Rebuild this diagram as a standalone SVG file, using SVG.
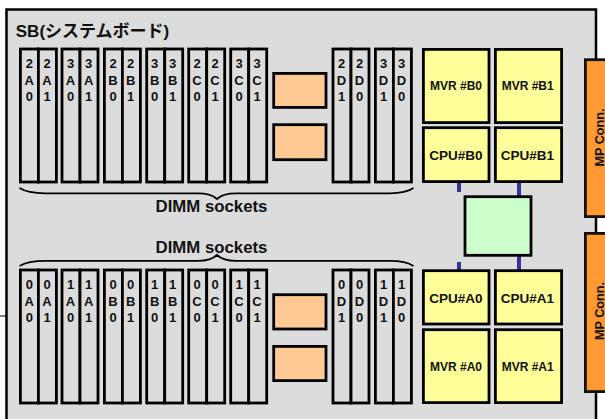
<svg xmlns="http://www.w3.org/2000/svg" width="605" height="419" viewBox="0 0 605 419">
<style>
text{font-family:"Liberation Sans",Arial,"Noto Sans CJK JP",sans-serif;font-weight:bold;fill:#111;text-anchor:middle}
.d{fill:#dcdcdc;stroke:#000;stroke-width:2.8}
.o{fill:#ffc993;stroke:#000;stroke-width:2.8}
.y{fill:#ffff99;stroke:#000;stroke-width:2.8}
.g{fill:#ccffcc;stroke:#000;stroke-width:2.8}
.c{fill:#ff9933;stroke:#111;stroke-width:2.8}
.b{fill:#333399}
.br{fill:none;stroke:#000;stroke-width:1.8}
.s{font-size:13px}
.m{font-size:12px}
.p{font-size:13.5px}
.l{font-size:16.8px}
</style>
<defs>
<g id="dp"><rect class="d" x="0" y="0" width="18" height="133"/><rect class="d" x="18" y="0" width="18" height="133"/></g>
</defs>
<g id="board"><rect x="6.500" y="9.500" width="589.500" height="420" fill="#dcdcdc" stroke="#000" stroke-width="2.500"/><line x1="0" y1="316" x2="6" y2="316" stroke="#000" stroke-width="1"/><text x="92.500" y="37" style="font-size:17px">SB(システムボード)</text></g>
<g id="connectors">
<rect class="b" x="457" y="183" width="4" height="9"/><rect class="b" x="517" y="183" width="4" height="13"/>
<rect class="b" x="457" y="262" width="4" height="8"/><rect class="b" x="517" y="256" width="4" height="14"/>
<path class="br" d="M19.500 188Q28 193.300 45 193.300L198 193.300Q211 193.300 217 199Q223 193.300 236 193.300L390 193.300Q406 193.300 413.500 188"/>
<path class="br" d="M19.500 266Q28 260.800 45 260.800L198 260.800Q211 260.800 217 255Q223 260.800 236 260.800L390 260.800Q406 260.800 413.500 266"/>
</g>
<g id="dimm-top">
<use href="#dp" x="20.400" y="49"/><use href="#dp" x="62" y="49"/><use href="#dp" x="104.400" y="49"/><use href="#dp" x="146.700" y="49"/><use href="#dp" x="188.700" y="49"/><use href="#dp" x="230.700" y="49"/><use href="#dp" x="333" y="49"/><use href="#dp" x="375.400" y="49"/>
<g class="s">
<text x="29.300" y="68">2<tspan x="29.300" dy="16.500">A</tspan><tspan x="29.300" dy="16.500">0</tspan></text><text x="47" y="68">2<tspan x="47" dy="16.500">A</tspan><tspan x="47" dy="16.500">1</tspan></text>
<text x="70.500" y="68">3<tspan x="70.500" dy="16.500">A</tspan><tspan x="70.500" dy="16.500">0</tspan></text><text x="88.700" y="68">3<tspan x="88.700" dy="16.500">A</tspan><tspan x="88.700" dy="16.500">1</tspan></text>
<text x="113" y="68">2<tspan x="113" dy="16.500">B</tspan><tspan x="113" dy="16.500">0</tspan></text><text x="130.700" y="68">2<tspan x="130.700" dy="16.500">B</tspan><tspan x="130.700" dy="16.500">1</tspan></text>
<text x="154.700" y="68">3<tspan x="154.700" dy="16.500">B</tspan><tspan x="154.700" dy="16.500">0</tspan></text><text x="172.700" y="68">3<tspan x="172.700" dy="16.500">B</tspan><tspan x="172.700" dy="16.500">1</tspan></text>
<text x="197" y="68">2<tspan x="197" dy="16.500">C</tspan><tspan x="197" dy="16.500">0</tspan></text><text x="215" y="68">2<tspan x="215" dy="16.500">C</tspan><tspan x="215" dy="16.500">1</tspan></text>
<text x="239" y="68">3<tspan x="239" dy="16.500">C</tspan><tspan x="239" dy="16.500">0</tspan></text><text x="257" y="68">3<tspan x="257" dy="16.500">C</tspan><tspan x="257" dy="16.500">1</tspan></text>
<text x="341.500" y="68">2<tspan x="341.500" dy="16.500">D</tspan><tspan x="341.500" dy="16.500">1</tspan></text><text x="359.500" y="68">2<tspan x="359.500" dy="16.500">D</tspan><tspan x="359.500" dy="16.500">0</tspan></text>
<text x="383.500" y="68">3<tspan x="383.500" dy="16.500">D</tspan><tspan x="383.500" dy="16.500">1</tspan></text><text x="401.500" y="68">3<tspan x="401.500" dy="16.500">D</tspan><tspan x="401.500" dy="16.500">0</tspan></text>
</g>
</g>
<g id="dimm-bottom">
<use href="#dp" x="20.400" y="270"/><use href="#dp" x="62" y="270"/><use href="#dp" x="104.400" y="270"/><use href="#dp" x="146.700" y="270"/><use href="#dp" x="188.700" y="270"/><use href="#dp" x="230.700" y="270"/><use href="#dp" x="333" y="270"/><use href="#dp" x="375.400" y="270"/>
<g class="s">
<text x="29.300" y="289">0<tspan x="29.300" dy="16.500">A</tspan><tspan x="29.300" dy="16.500">0</tspan></text><text x="47" y="289">0<tspan x="47" dy="16.500">A</tspan><tspan x="47" dy="16.500">1</tspan></text>
<text x="70.500" y="289">1<tspan x="70.500" dy="16.500">A</tspan><tspan x="70.500" dy="16.500">0</tspan></text><text x="88.700" y="289">1<tspan x="88.700" dy="16.500">A</tspan><tspan x="88.700" dy="16.500">1</tspan></text>
<text x="113" y="289">0<tspan x="113" dy="16.500">B</tspan><tspan x="113" dy="16.500">0</tspan></text><text x="130.700" y="289">0<tspan x="130.700" dy="16.500">B</tspan><tspan x="130.700" dy="16.500">1</tspan></text>
<text x="154.700" y="289">1<tspan x="154.700" dy="16.500">B</tspan><tspan x="154.700" dy="16.500">0</tspan></text><text x="172.700" y="289">1<tspan x="172.700" dy="16.500">B</tspan><tspan x="172.700" dy="16.500">1</tspan></text>
<text x="197" y="289">0<tspan x="197" dy="16.500">C</tspan><tspan x="197" dy="16.500">0</tspan></text><text x="215" y="289">0<tspan x="215" dy="16.500">C</tspan><tspan x="215" dy="16.500">1</tspan></text>
<text x="239" y="289">1<tspan x="239" dy="16.500">C</tspan><tspan x="239" dy="16.500">0</tspan></text><text x="257" y="289">1<tspan x="257" dy="16.500">C</tspan><tspan x="257" dy="16.500">1</tspan></text>
<text x="341.500" y="289">0<tspan x="341.500" dy="16.500">D</tspan><tspan x="341.500" dy="16.500">1</tspan></text><text x="359.500" y="289">0<tspan x="359.500" dy="16.500">D</tspan><tspan x="359.500" dy="16.500">0</tspan></text>
<text x="383.500" y="289">1<tspan x="383.500" dy="16.500">D</tspan><tspan x="383.500" dy="16.500">1</tspan></text><text x="401.500" y="289">1<tspan x="401.500" dy="16.500">D</tspan><tspan x="401.500" dy="16.500">0</tspan></text>
</g>
</g>
<g id="label-top"><text class="l" x="211.500" y="212">DIMM sockets</text></g>
<g id="label-bottom"><text class="l" x="211.500" y="253">DIMM sockets</text></g>
<g id="o1"><rect class="o" x="273.700" y="73.400" width="52.300" height="34"/></g>
<g id="o2"><rect class="o" x="273.700" y="124.700" width="52.300" height="35"/></g>
<g id="o3"><rect class="o" x="273.700" y="294.700" width="52.300" height="34.300"/></g>
<g id="o4"><rect class="o" x="273.700" y="346.400" width="52.300" height="34.200"/></g>
<g id="mvr-b0"><rect class="y" x="423.400" y="49.400" width="65.600" height="73.200"/><text class="m" x="456" y="90">MVR #B0</text></g>
<g id="mvr-b1"><rect class="y" x="495.400" y="49.400" width="66.200" height="73.200"/><text class="m" x="527.700" y="90">MVR #B1</text></g>
<g id="cpu-b0"><rect class="y" x="423.400" y="127.700" width="65.600" height="53.900"/><text class="p" x="456" y="160">CPU#B0</text></g>
<g id="cpu-b1"><rect class="y" x="495.400" y="127.700" width="66.200" height="53.900"/><text class="p" x="527.300" y="160">CPU#B1</text></g>
<g id="switch"><rect class="g" x="465" y="196.700" width="66" height="58.600"/></g>
<g id="cpu-a0"><rect class="y" x="423.400" y="270.700" width="65.600" height="53.300"/><text class="p" x="456" y="303">CPU#A0</text></g>
<g id="cpu-a1"><rect class="y" x="495.400" y="270.700" width="66.200" height="53.300"/><text class="p" x="527.300" y="303">CPU#A1</text></g>
<g id="mvr-a0"><rect class="y" x="423.400" y="329.700" width="65.600" height="72.900"/><text class="m" x="456" y="371">MVR #A0</text></g>
<g id="mvr-a1"><rect class="y" x="495.400" y="329.700" width="66.200" height="72.900"/><text class="m" x="527.700" y="371">MVR #A1</text></g>
<g id="mp-top"><rect class="c" x="585.400" y="59.700" width="30" height="156.900"/><text x="0" y="0" style="font-size:12.600px" transform="translate(603.500 137.500) rotate(-90)">MP Conn.</text></g>
<g id="mp-bottom"><rect class="c" x="585.400" y="233.400" width="30" height="158.200"/><text x="0" y="0" style="font-size:12.600px" transform="translate(603.500 311) rotate(-90)">MP Conn.</text></g>
</svg>
